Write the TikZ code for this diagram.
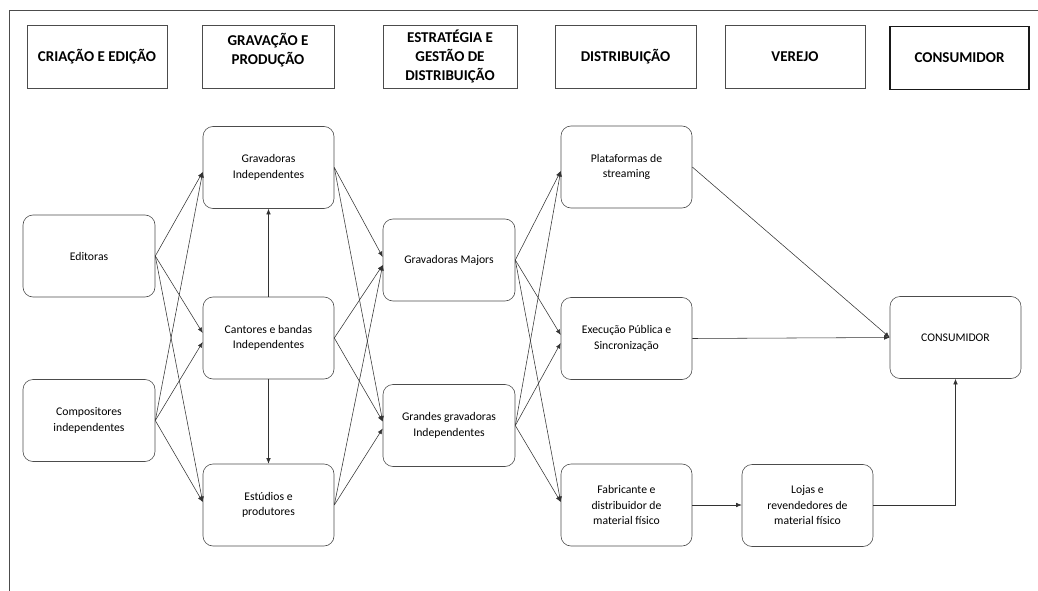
\documentclass[tikz,border=0pt]{standalone}
\usepackage{fontspec}
\setmainfont{Carlito}
\usetikzlibrary{arrows.meta}
\tikzset{
  hdr/.style={draw=black!70, line width=0.6pt, minimum height=63pt, align=center,
    font=\fontsize{15}{19}\selectfont\bfseries, inner sep=2pt},
  box/.style={draw=black!70, line width=0.6pt, rounded corners=10pt, minimum width=131pt,
    minimum height=82pt, align=center, font=\fontsize{11.7}{15.5}\selectfont, inner sep=2pt},
  conn/.style={draw=black!80, line width=0.55pt, -{Latex[length=5.5pt,width=4.5pt]}},
  frame/.style={draw=black!70, line width=1pt}
}
\begin{document}
\begin{tikzpicture}[x=1pt,y=-1pt]
\useasboundingbox (0,0) rectangle (1038,591);
% frame
\coordinate (ftr) at (1038,11);
\coordinate (ftl) at (9,11);
\coordinate (fbl) at (9,591);
\draw[frame] (ftr) -- (ftl) -- (fbl);
% headers
\node[hdr, minimum width=140pt] (h1) at (97,56.5) {CRIAÇÃO E EDIÇÃO};
\node[hdr, minimum width=132pt] (h2) at (268,56.5) {GRAVAÇÃO E\\PRODUÇÃO\\[-4pt]~};
\node[hdr, minimum width=134pt] (h3) at (450,56.5) {ESTRATÉGIA E\\GESTÃO DE\\DISTRIBUIÇÃO};
\node[hdr, minimum width=141pt] (h4) at (625.5,56.5) {DISTRIBUIÇÃO};
\node[hdr, minimum width=140pt] (h5) at (795,56.5) {VEREJO};
\node[hdr, minimum width=139pt, line width=1.1pt, draw=black!90] (h6) at (959.5,58) {CONSUMIDOR};
% nodes
\node[box, minimum width=132pt] (edit) at (89,256) {Editoras};
\node[box, minimum width=132pt] (comp) at (89,420.5) {Compositores\\independentes};
\node[box] (gind) at (268.5,167.5) {Gravadoras\\Independentes};
\node[box] (cant) at (268.5,338) {Cantores e bandas\\Independentes};
\node[box] (estu) at (268.5,505) {Estúdios e\\produtores};
\node[box, minimum width=132pt] (maj) at (449,260) {Gravadoras Majors};
\node[box, minimum width=132pt] (grand) at (449,425.5) {Grandes gravadoras\\Independentes};
\node[box] (plat) at (626.5,167) {Plataformas de\\streaming};
\node[box] (exec) at (626.5,338.5) {Execução Pública e\\Sincronização};
\node[box] (fab) at (626.5,505) {Fabricante e\\distribuidor de\\material físico};
\node[box] (loj) at (807.5,505.5) {Lojas e\\revendedores de\\material físico};
\node[box] (cons) at (955.5,337.5) {CONSUMIDOR};
% column 1 -> 2
\draw[conn] (edit.east) -- ([yshift=-4.5pt]gind.west);
\draw[conn] (edit.east) -- ([yshift=5pt]cant.west);
\draw[conn] (edit.east) -- ([yshift=3pt]estu.west);
\draw[conn] (comp.east) -- ([yshift=-4.5pt]gind.west);
\draw[conn] (comp.east) -- ([yshift=-4pt]cant.west);
\draw[conn] (comp.east) -- ([yshift=3pt]estu.west);
% vertical in column 2
\draw[conn] (cant.north) -- (gind.south);
\draw[conn] (cant.south) -- (estu.north);
% column 2 -> 3
\draw[conn] (gind.east) -- ([yshift=3pt]maj.west);
\draw[conn] (cant.east) -- ([yshift=-5pt]maj.west);
\draw[conn] (estu.east) -- ([yshift=-5pt]maj.west);
\draw[conn] (gind.east) -- ([yshift=4pt]grand.west);
\draw[conn] (cant.east) -- ([yshift=4pt]grand.west);
\draw[conn] (estu.east) -- ([yshift=-3pt]grand.west);
% column 3 -> 4
\draw[conn] (maj.east) -- ([yshift=-4pt]plat.west);
\draw[conn] (maj.east) -- ([yshift=3.5pt]exec.west);
\draw[conn] (maj.east) -- ([yshift=3pt]fab.west);
\draw[conn] (grand.east) -- ([yshift=-4pt]plat.west);
\draw[conn] (grand.east) -- ([yshift=-4.5pt]exec.west);
\draw[conn] (grand.east) -- ([yshift=3pt]fab.west);
% to consumer
\draw[conn] (plat.east) -- (cons.west);
\draw[conn] (exec.east) -- (cons.west);
\draw[conn] (fab.east) -- (fab.east -| loj.west);
\draw[conn] (loj.east) -| (cons.south);
\end{tikzpicture}
\end{document}
